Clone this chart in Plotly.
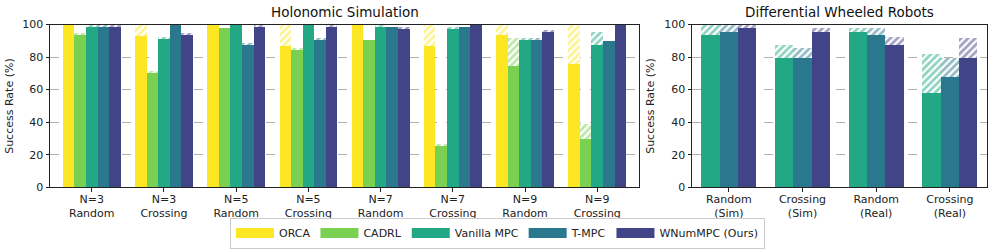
import plotly.graph_objects as go

# ---------------- data ----------------
methods = ["ORCA", "CADRL", "Vanilla MPC", "T-MPC", "WNumMPC (Ours)"]
colors = ["#fde725", "#7ad151", "#22a884", "#2a788e", "#414487"]

left_groups = ["N=3<br>Random", "N=3<br>Crossing", "N=5<br>Random", "N=5<br>Crossing",
               "N=7<br>Random", "N=7<br>Crossing", "N=9<br>Random", "N=9<br>Crossing"]
# solid = success rate, total = top of hatched part
orca_succ = [100, 93, 100, 87, 100, 87, 94, 76]
orca_total = [100, 100, 100, 100, 100, 100, 100, 100]
cadrl_succ = [94, 71, 98, 85, 91, 25.5, 75, 30]
cadrl_total = [94.5, 71.5, 98, 85.5, 91, 27, 92, 39]
vmpc_succ = [99, 92, 100, 100, 99, 97.5, 91, 88]
vmpc_total = [99.5, 92.5, 100, 100, 100, 99, 92, 96]
tmpc_succ = [99, 100, 88, 91, 99, 99, 91, 90]
tmpc_total = [100, 100, 88.5, 91.5, 99, 99, 92, 90]
wnum_succ = [99, 94, 99, 99, 98, 100, 96, 100]
wnum_total = [99.5, 94.5, 99.5, 99.5, 99, 100, 97, 100]

right_groups = ["Random<br>(Sim)", "Crossing<br>(Sim)", "Random<br>(Real)", "Crossing<br>(Real)"]
r_vmpc_succ = [94, 80, 96, 58]
r_vmpc_total = [100, 88, 98, 82]
r_tmpc_succ = [96, 80, 94, 68]
r_tmpc_total = [100, 86, 98, 80]
r_wnum_succ = [98, 96, 88, 80]
r_wnum_total = [100, 98, 92.5, 92]

yticks = [0, 20, 40, 60, 80, 100]

left_data = [(orca_succ, orca_total), (cadrl_succ, cadrl_total), (vmpc_succ, vmpc_total),
             (tmpc_succ, tmpc_total), (wnum_succ, wnum_total)]
right_data = [(r_vmpc_succ, r_vmpc_total), (r_tmpc_succ, r_tmpc_total), (r_wnum_succ, r_wnum_total)]

fig = go.Figure()

FONT = "DejaVu Sans"

def add_bars(data, color_idx, n_groups, width, xaxis, yaxis):
    n = len(data)
    for k, (succ, tot) in enumerate(data):
        ci = color_idx[k]
        xs = [g + (k - (n - 1) / 2) * width for g in range(n_groups)]
        fig.add_trace(go.Bar(
            x=xs, y=succ, width=width, base=0,
            marker=dict(color=colors[ci], line=dict(width=0)),
            name=methods[ci], showlegend=False, legendgroup=methods[ci],
            xaxis=xaxis, yaxis=yaxis))
        hatch_h = [t - s for s, t in zip(succ, tot)]
        fig.add_trace(go.Bar(
            x=xs, y=hatch_h, width=width, base=succ,
            marker=dict(color="white", line=dict(width=0),
                        pattern=dict(shape="/", fgcolor=colors[ci], bgcolor="white",
                                     size=5, solidity=0.55)),
            showlegend=False, legendgroup=methods[ci],
            xaxis=xaxis, yaxis=yaxis))

add_bars(left_data, [0, 1, 2, 3, 4], len(left_groups), 0.16, "x", "y")
add_bars(right_data, [2, 3, 4], len(right_groups), 0.25, "x2", "y2")

# legend entries (wide patch look)
for ci, m in enumerate(methods):
    fig.add_trace(go.Scatter(x=[None], y=[None], mode="lines", name=m,
                             line=dict(color=colors[ci], width=10),
                             legendgroup=m, showlegend=True, xaxis="x", yaxis="y"))

W = 997.0
H = 249.0

def px(x):
    return x / W

def py(y):
    return 1 - y / H

ybot = py(188.7)
ytop = py(24.7)

axis_common = dict(showline=True, linecolor="#222", linewidth=1, mirror=True,
                   ticks="outside", ticklen=3.5, tickwidth=1, tickcolor="#222",
                   tickfont=dict(family=FONT, size=11, color="#222"), automargin=False)

fig.update_layout(
    width=int(W), height=int(H),
    margin=dict(l=0, r=0, t=0, b=0),
    paper_bgcolor="white", plot_bgcolor="white",
    barmode="overlay", bargap=0,
    font=dict(family=FONT, size=11, color="#222"),
    xaxis=dict(domain=[px(50), px(639)], range=[-0.578, 7.578],
               tickmode="array", tickvals=list(range(len(left_groups))), ticktext=left_groups,
               showgrid=False, zeroline=False, ticklabelstandoff=-2, **axis_common),
    yaxis=dict(domain=[ybot, ytop], range=[0, 100], tickmode="array", tickvals=yticks,
               showgrid=True, gridcolor="#b0b0b0", griddash="dash", gridwidth=0.6,
               zeroline=False, anchor="x", **axis_common),
    xaxis2=dict(domain=[px(692), px(986.7)], range=[-0.5, 3.5],
                tickmode="array", tickvals=list(range(len(right_groups))), ticktext=right_groups,
                showgrid=False, zeroline=False, anchor="y2", ticklabelstandoff=-2, **axis_common),
    yaxis2=dict(domain=[ybot, ytop], range=[0, 100], tickmode="array", tickvals=yticks,
                showgrid=True, gridcolor="#b0b0b0", griddash="dash", gridwidth=0.6,
                zeroline=False, anchor="x2", **axis_common),
    legend=dict(orientation="h", x=px(497.5), xanchor="center", y=py(235), yanchor="middle",
                bordercolor="#cccccc", borderwidth=1, bgcolor="white", itemwidth=38,
                font=dict(family=FONT, size=11, color="#222"), traceorder="normal"),
    annotations=[
        dict(text="Holonomic Simulation", x=px((50 + 639) / 2), y=py(12), xref="paper", yref="paper",
             showarrow=False, font=dict(family=FONT, size=13.5, color="#111"), xanchor="center", yanchor="middle"),
        dict(text="Differential Wheeled Robots", x=px((692 + 986.7) / 2), y=py(12), xref="paper", yref="paper",
             showarrow=False, font=dict(family=FONT, size=13.5, color="#111"), xanchor="center", yanchor="middle"),
        dict(text="Success Rate (%)", x=px(10), y=(ybot + ytop) / 2, xref="paper", yref="paper",
             showarrow=False, textangle=-90, font=dict(family=FONT, size=11, color="#222"),
             xanchor="center", yanchor="middle"),
        dict(text="Success Rate (%)", x=px(651), y=(ybot + ytop) / 2, xref="paper", yref="paper",
             showarrow=False, textangle=-90, font=dict(family=FONT, size=11, color="#222"),
             xanchor="center", yanchor="middle"),
    ],
)

fig.write_html("out.html", post_script="document.body.style.margin='0px';",
               config={"displayModeBar": False})
